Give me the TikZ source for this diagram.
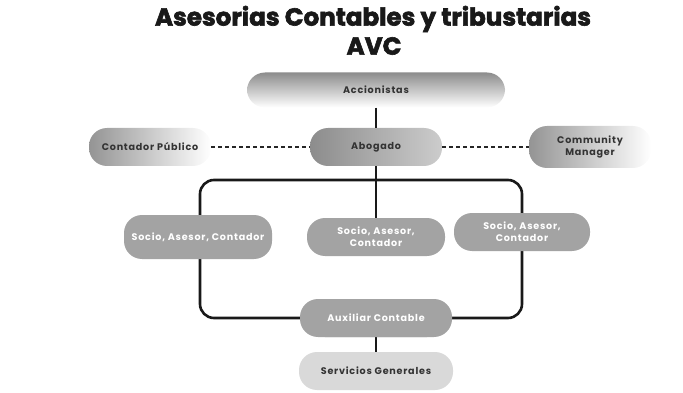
\documentclass[tikz,border=0pt]{standalone}
\usepackage{fontspec}
\setmainfont{Poppins}
\newfontfamily\boxfont[LetterSpace=8]{Poppins}
\newfontfamily\headfont[FakeBold=2.5]{Poppins}
\usetikzlibrary{positioning}
\definecolor{txtdark}{HTML}{333333}
\definecolor{boxgray}{HTML}{A3A3A3}
\definecolor{lightbox}{HTML}{D9D9D9}
\tikzset{
  base/.style={rounded corners=18pt, inner sep=2pt, align=center,
    font=\boxfont\fontsize{9.6}{12}\selectfont\bfseries},
  gradv/.style={base, top color=black!45, bottom color=white, text=txtdark},
  gradh/.style={base, left color=black!42, right color=white, text=txtdark},
  solidbox/.style={base, fill=boxgray, text=white},
  lightbox/.style={base, fill=lightbox, text=txtdark},
  link/.style={line width=2.6pt, black!90},
  dlink/.style={line width=1.5pt, black!85, dash pattern=on 4pt off 3pt},
  titlefont/.style={font=\headfont\fontsize{24.6}{29}\selectfont\bfseries, text=black!90}
}
\begin{document}
\begin{tikzpicture}[x=1pt,y=1pt]
\useasboundingbox (0,0) rectangle (683,-393);
\node[titlefont] (t1) at (373,-19) {Asesorias Contables y tribustarias};
\node[titlefont] (t2) at (374,-46) {AVC};

\node[gradv, minimum width=258pt, minimum height=35pt] (acc) at (376,-90) {Accionistas};
\node[gradh, minimum width=122pt, minimum height=38pt] (cp) at (150,-147) {Contador Público};
\node[gradh, left color=black!45, right color=black!20, minimum width=132pt, minimum height=38pt] (abo) at (376,-147) {Abogado};
\node[gradh, minimum width=122pt, minimum height=42pt] (cm) at (590,-147) {Community\\Manager};

\coordinate (fl) at (200,-318);
\coordinate (fr) at (522,-318);
\coordinate (ftl) at (200,-180);
\coordinate (ftr) at (522,-180);

\node[solidbox, minimum width=138pt, minimum height=38pt] (aux) at (376,-318) {Auxiliar Contable};
\node[lightbox, minimum width=154pt, minimum height=38pt] (serv) at (376,-371) {Servicios Generales};

\draw[link, rounded corners=14pt] (aux.west) -- (fl) -- (ftl) -- (ftr) -- (fr) -- (aux.east);
\draw[link] (acc.south) -- (abo.north);
\draw[link] (abo.south) -- (376,-218);
\draw[link] (aux.south) -- (serv.north);
\draw[dlink] (cp.east) -- (abo.west);
\draw[dlink] (abo.east) -- (cm.west);

\node[solidbox, minimum width=148pt, minimum height=44pt] (s1) at (198,-237) {Socio, Asesor, Contador};
\node[solidbox, minimum width=138pt, minimum height=38pt] (s2) at (376,-237) {Socio, Asesor,\\Contador};
\node[solidbox, minimum width=136pt, minimum height=38pt] (s3) at (522,-232) {Socio, Asesor,\\Contador};
\node[solidbox, minimum width=152pt, minimum height=38pt] at (aux) {Auxiliar Contable};
\end{tikzpicture}
\end{document}
